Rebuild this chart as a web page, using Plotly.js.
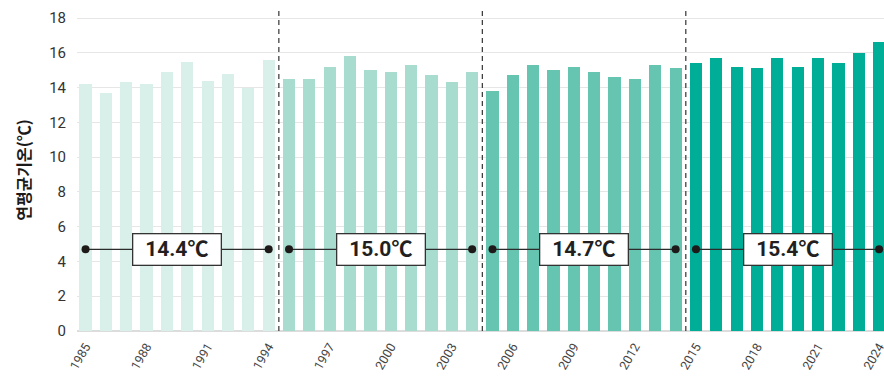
<!DOCTYPE html>
<html>
<head>
<meta charset="utf-8">
<script src="https://cdn.plot.ly/plotly-3.0.1.min.js"></script>
<style>
  html, body { margin: 0; padding: 0; background: #fff; }
  #chart { width: 884px; height: 377px; }
</style>
</head>
<body>
<div id="chart"></div>
<script>
// Annual mean temperature by year, grouped by decade
const years = [];
for (let y = 1985; y <= 2024; y++) years.push(y);

const temps = [
  14.2, 13.7, 14.3, 14.2, 14.9, 15.5, 14.4, 14.8, 14.0, 15.6,
  14.5, 14.5, 15.2, 15.8, 15.0, 14.9, 15.3, 14.7, 14.3, 14.9,
  13.8, 14.7, 15.3, 15.0, 15.2, 14.9, 14.6, 14.5, 15.3, 15.1,
  15.4, 15.7, 15.2, 15.1, 15.7, 15.2, 15.7, 15.4, 16.0, 16.6
];

// Decade groups: first year, last year, colour, stated mean
const groupStart = [1985, 1995, 2005, 2015];
const groupEnd   = [1994, 2004, 2014, 2024];
const groupColor = ['#d8f0e9', '#a7dccf', '#66c5b1', '#00ad97'];
const groupMean  = [14.4, 15.0, 14.7, 15.4];
const groupLabel = ['14.4℃', '15.0℃', '14.7℃', '15.4℃'];

// Height at which the mean markers are drawn
const markerLevel = 4.7;

const tickYears = [1985, 1988, 1991, 1994, 1997, 2000, 2003, 2006, 2009, 2012, 2015, 2018, 2021, 2024];
const yTicks = [0, 2, 4, 6, 8, 10, 12, 14, 16, 18];

const traces = [];
const annotations = [];
const shapes = [];

groupStart.forEach((s, g) => {
  const xs = [], ys = [];
  years.forEach((yr, i) => {
    if (yr >= s && yr <= groupEnd[g]) { xs.push(yr); ys.push(temps[i]); }
  });
  traces.push({
    type: 'bar', x: xs, y: ys, width: 0.6,
    marker: { color: groupColor[g], line: { width: 0 } },
    hoverinfo: 'x+y', showlegend: false
  });
  // line between first and last year of the decade
  traces.push({
    type: 'scatter', mode: 'lines+markers',
    x: [s, groupEnd[g]], y: [markerLevel, markerLevel],
    line: { color: '#2b2b2b', width: 1.3 },
    marker: { color: '#1e1a1a', size: 8 },
    hoverinfo: 'skip', showlegend: false
  });
  annotations.push({
    x: (s + groupEnd[g]) / 2, y: markerLevel, xref: 'x', yref: 'y',
    text: '<b>' + groupLabel[g] + '</b>', showarrow: false,
    font: { family: 'Roboto, "Noto Sans CJK KR", sans-serif', size: 21, color: '#231f20' },
    bgcolor: '#ffffff', bordercolor: '#333333', borderwidth: 1.3, borderpad: 2,
    width: 83, height: 26
  });
  if (g > 0) {
    shapes.push({
      type: 'line', xref: 'x', yref: 'paper', x0: s - 0.5, x1: s - 0.5, y0: 0, y1: 1,
      line: { color: '#333333', width: 1.2, dash: '5px,4px' }, layer: 'above'
    });
  }
});

const layout = {
  width: 884, height: 377,
  margin: { l: 77, r: 0, t: 9, b: 46 },
  paper_bgcolor: '#ffffff', plot_bgcolor: '#ffffff',
  bargap: 0,
  xaxis: {
    type: 'linear', range: [1984.58, 2024.24],
    tickmode: 'array', tickvals: tickYears, ticktext: tickYears.map(String),
    tickangle: -60, ticks: '', showgrid: false, zeroline: false,
    showline: false, ticklabelstandoff: 5, ticklabeloverflow: 'allow',
    automargin: false,
    tickfont: { family: 'Roboto, sans-serif', size: 12.5, color: '#444444' }
  },
  yaxis: {
    range: [0, 18.52], tickvals: yTicks, ticktext: yTicks.map(String),
    showgrid: true, gridcolor: '#e6e6e6', gridwidth: 1,
    zeroline: true, zerolinecolor: '#dcdcdc', zerolinewidth: 1.5,
    ticks: '', ticklabelstandoff: 10,
    tickfont: { family: 'Roboto, sans-serif', size: 15, color: '#333333' },
    title: {
      text: '<b>연평균기온(℃)</b>', standoff: 14,
      font: { family: '"Noto Sans CJK KR", sans-serif', size: 16, color: '#1a1a1a' }
    }
  },
  shapes: shapes,
  annotations: annotations
};

Plotly.newPlot('chart', traces, layout, { staticPlot: true, displayModeBar: false });
</script>
</body>
</html>
